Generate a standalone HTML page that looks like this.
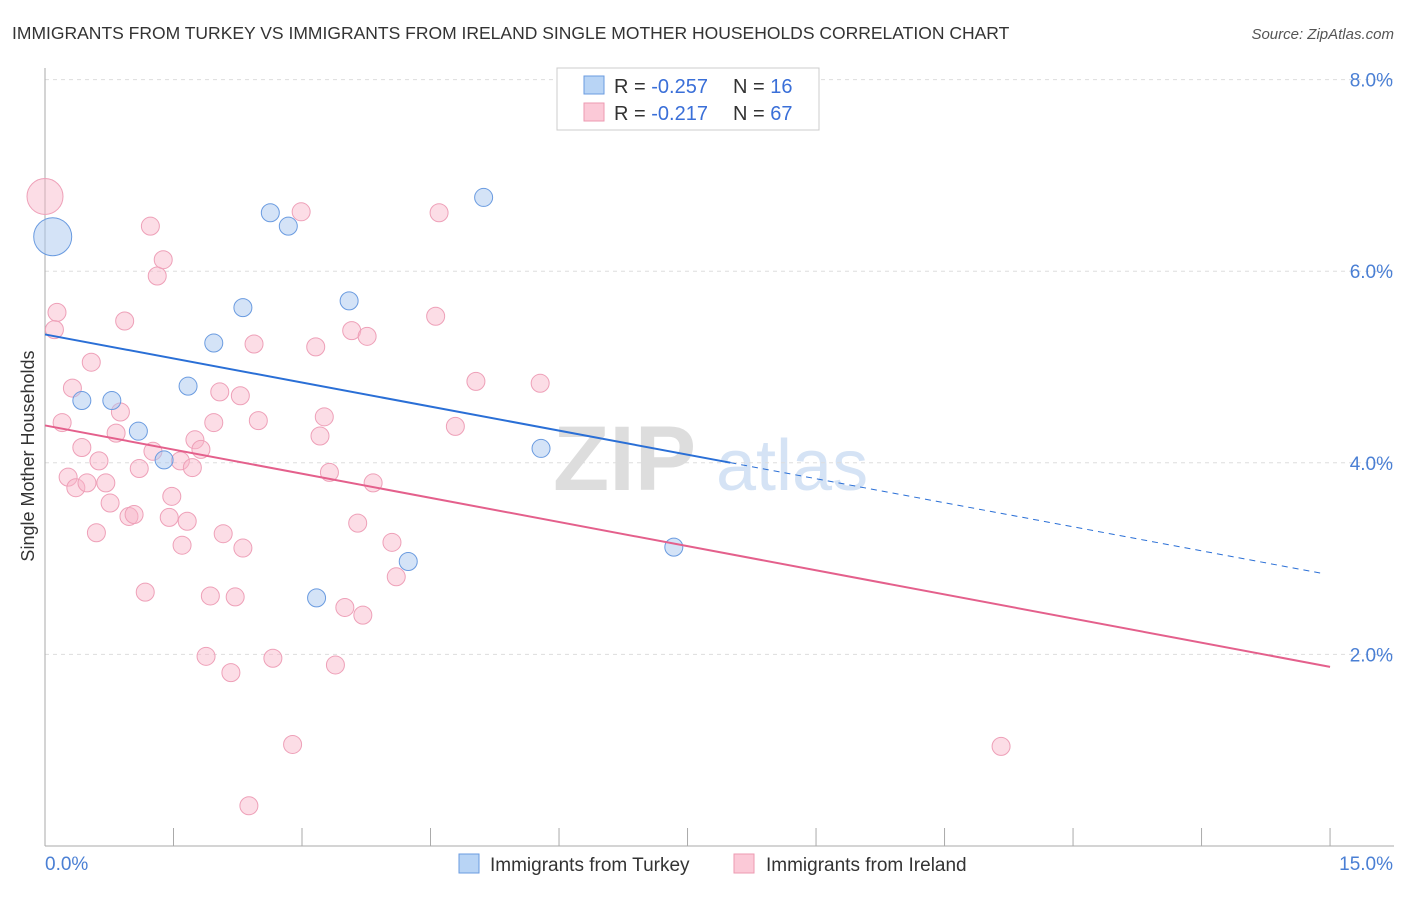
<!DOCTYPE html>
<html><head><meta charset="utf-8"><style>
body{margin:0;background:#fff;font-family:"Liberation Sans",sans-serif;}
svg text{font-family:"Liberation Sans",sans-serif;}
</style></head><body>
<svg id="c" width="1406" height="892">
<text x="12" y="39" font-size="17.5" fill="#333">IMMIGRANTS FROM TURKEY VS IMMIGRANTS FROM IRELAND SINGLE MOTHER HOUSEHOLDS CORRELATION CHART</text>
<text x="1394" y="39" font-size="15" fill="#555" text-anchor="end" font-style="italic">Source: ZipAtlas.com</text>
<g><text x="553" y="490" font-size="92" fill="#ddd" font-family="Liberation Serif" font-weight="bold">ZIP</text><text x="716" y="490" font-size="72" fill="#d5e3f5">atlas</text></g>
<g id="grid"></g><g id="axes"></g><g id="pts"></g><g id="trend"></g>
<text transform="translate(34,456) rotate(-90)" font-size="18" fill="#333" text-anchor="middle">Single Mother Households</text>
<g>
<rect x="557" y="68" width="262" height="62" fill="#fff" stroke="#ccc"/>
<rect x="584" y="76" width="20" height="18" fill="#b8d4f5" stroke="#6a9be0"/>
<rect x="584" y="103" width="20" height="18" fill="#fbc9d7" stroke="#ec9ab2"/>
<text x="614" y="93" font-size="20" fill="#333">R = <tspan fill="#3a6fd8">-0.257</tspan><tspan x="733">N = </tspan><tspan fill="#3a6fd8">16</tspan></text>
<text x="614" y="120" font-size="20" fill="#333">R = <tspan fill="#3a6fd8"> -0.217</tspan><tspan x="733">N = </tspan><tspan fill="#3a6fd8">67</tspan></text>
</g>
<g>
<rect x="459" y="854" width="20" height="19" fill="#b8d4f5" stroke="#6a9be0"/>
<text x="490" y="871" font-size="19" fill="#333">Immigrants from Turkey</text>
<rect x="734" y="854" width="20" height="19" fill="#fbc9d7" stroke="#ec9ab2"/>
<text x="766" y="871" font-size="19" fill="#333">Immigrants from Ireland</text>
</g>
</svg>
<script>
const yTicks=[2,4,6,8];
const xTickLabels=["0.0%","15.0%"];
const turkeyX=[0.09,0.43,0.78,1.09,1.39,1.67,1.97,2.31,2.63,2.84,3.17,3.55,4.24,5.12,5.79,7.34];
const turkeyY=[6.36,4.65,4.65,4.33,4.03,4.80,5.25,5.62,6.61,6.47,2.59,5.69,2.97,6.77,4.15,3.12];
const turkeyR=[19,9,9,9,9,9,9,9,9,9,9,9,9,9,9,9];
const irelandX=[0,0.14,0.11,0.20,0.32,0.27,0.36,0.49,0.43,0.54,0.60,0.63,0.71,0.76,0.83,0.88,0.93,0.98,1.04,1.10,1.17,1.23,1.31,1.38,1.26,1.45,1.48,1.58,1.60,1.66,1.72,1.75,1.82,1.88,1.93,1.97,2.04,2.08,2.17,2.22,2.28,2.31,2.38,2.44,2.49,2.66,2.89,2.99,3.16,3.21,3.26,3.32,3.39,3.50,3.58,3.65,3.71,3.76,3.83,4.05,4.10,4.56,4.60,4.79,5.03,5.78,11.16];
const irelandY=[6.78,5.57,5.39,4.42,4.78,3.85,3.74,3.79,4.16,5.05,3.27,4.02,3.79,3.58,4.31,4.53,5.48,3.44,3.46,3.94,2.65,6.47,5.95,6.12,4.12,3.43,3.65,4.02,3.14,3.39,3.95,4.24,4.14,1.98,2.61,4.42,4.74,3.26,1.81,2.60,4.70,3.11,0.42,5.24,4.44,1.96,1.06,6.62,5.21,4.28,4.48,3.90,1.89,2.49,5.38,3.37,2.41,5.32,3.79,3.17,2.81,5.53,6.61,4.38,4.85,4.83,1.04];
const turkeyTrend=[5.34,2.84];
const irelandTrend=[4.39,1.87];
const NS="http://www.w3.org/2000/svg";
const X=v=>45+v*85.67, Y=v=>846-v*95.8;
function mk(t,a,p){const e=document.createElementNS(NS,t);for(const k in a)e.setAttribute(k,a[k]);p.appendChild(e);return e;}
const grid=document.getElementById('grid'),axes=document.getElementById('axes'),pts=document.getElementById('pts'),tr=document.getElementById('trend');
yTicks.forEach(v=>{
 const l=mk('line',{x1:45,x2:1394,y1:Y(v),y2:Y(v),stroke:'#ddd','stroke-dasharray':'4,4'},grid);
 
 
 const t=mk('text',{x:1393,y:Y(v)+7,'font-size':19,fill:'#4a7fd4','text-anchor':'end'},axes);
 t.textContent=v.toFixed(1)+'%';
 
 
});
mk('line',{x1:45,x2:45,y1:68,y2:846,stroke:'#aaa'},axes);
mk('line',{x1:45,x2:1394,y1:846,y2:846,stroke:'#aaa'},axes);
for(let i=0;i<=10;i++){const xv=i*1.5;mk('line',{x1:X(xv),x2:X(xv),y1:828,y2:846,stroke:'#aaa'},axes);}
const xl0=mk('text',{x:45,y:870,'font-size':19,fill:'#4a7fd4'},axes);xl0.textContent=xTickLabels[0];


const xl1=mk('text',{x:1393,y:870,'font-size':19,fill:'#4a7fd4','text-anchor':'end'},axes);xl1.textContent=xTickLabels[1];


irelandX.forEach((x,i)=>{const c=mk('circle',{cx:X(x),cy:Y(irelandY[i]),r:i==0?18:9,fill:'rgba(248,180,200,0.45)',stroke:'#eea0b8','stroke-width':1},pts);
 
 });
turkeyX.forEach((x,i)=>{const c=mk('circle',{cx:X(x),cy:Y(turkeyY[i]),r:turkeyR[i],fill:'rgba(170,200,240,0.5)',stroke:'#6a9be0','stroke-width':1},pts);
 
 });
const tY=x=>turkeyTrend[0]+(turkeyTrend[1]-turkeyTrend[0])*x/14.94;
const l1=mk('line',{x1:X(0),y1:Y(tY(0)),x2:X(8),y2:Y(tY(8)),stroke:'#2a6fd6','stroke-width':2},tr);


const l2=mk('line',{x1:X(8),y1:Y(tY(8)),x2:X(14.94),y2:Y(tY(14.94)),stroke:'#2a6fd6','stroke-width':1,'stroke-dasharray':'6,5'},tr);


const l3=mk('line',{x1:X(0),y1:Y(irelandTrend[0]),x2:X(15),y2:Y(irelandTrend[1]),stroke:'#e4608c','stroke-width':2},tr);


</script>
</body></html>
